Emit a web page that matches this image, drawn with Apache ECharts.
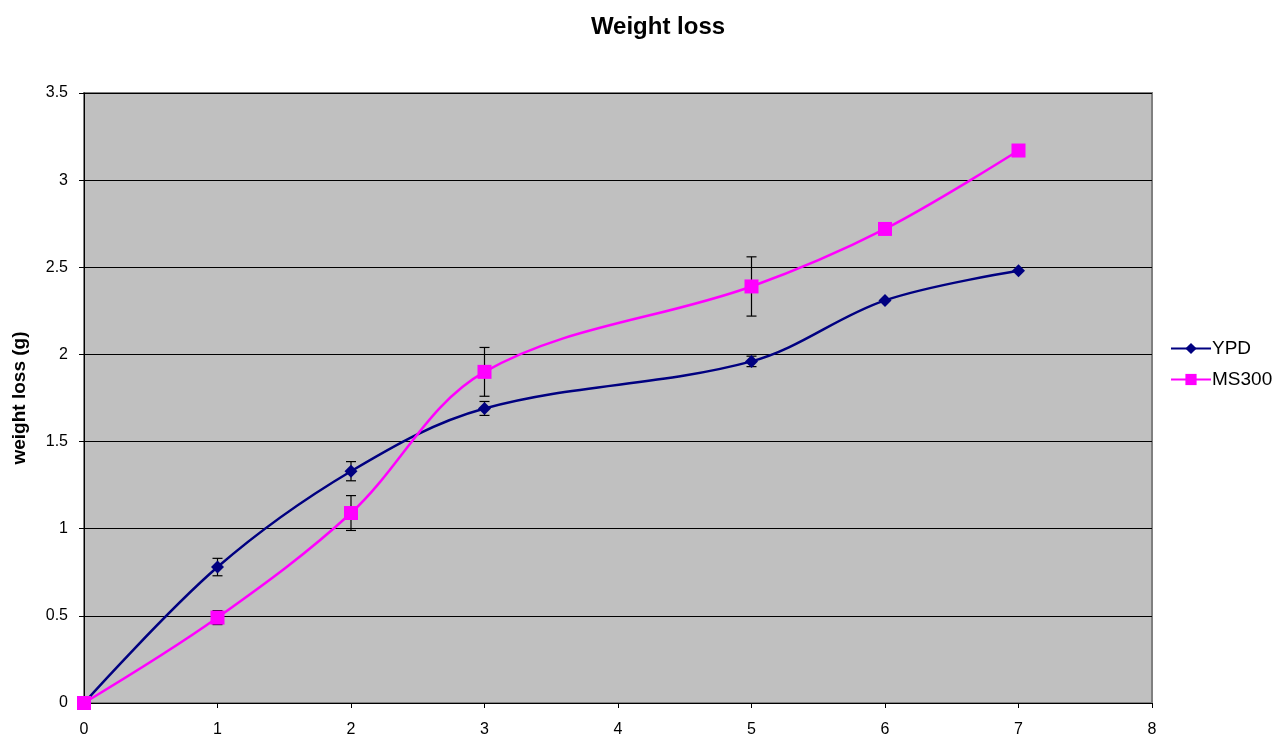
<!DOCTYPE html>
<html>
<head>
<meta charset="utf-8">
<script src="https://cdn.jsdelivr.net/npm/echarts@6/dist/echarts.min.js"></script>
<style>
html,body{margin:0;padding:0;background:#fff;}
#chart{width:1281px;height:738px;}
</style>
</head>
<body>
<div id="chart"></div>
<script>
const days = [0, 1, 2, 3, 5, 6, 7];
const ypd = [0, 0.78, 1.33, 1.69, 1.96, 2.31, 2.48];
const ypdErr = [0, 0.05, 0.055, 0.04, 0.03, 0, 0];
const ms300 = [0, 0.49, 1.09, 1.90, 2.39, 2.72, 3.17];
const ms300Err = [0, 0.04, 0.10, 0.14, 0.17, 0, 0];

const font = '"Liberation Sans", Arial, sans-serif';

function pts(xs, ys) { return xs.map((x, i) => [x, ys[i]]); }
function errData(xs, ys, es) {
  return xs.map((x, i) => [x, ys[i] - es[i], ys[i] + es[i]]).filter((d, i) => es[i] > 0);
}
function errRender(params, api) {
  const x = api.value(0);
  const lo = api.coord([x, api.value(1)]);
  const hi = api.coord([x, api.value(2)]);
  const w = 5;
  const style = { stroke: '#000', lineWidth: 1.2 };
  return {
    type: 'group',
    children: [
      { type: 'line', shape: { x1: lo[0], y1: lo[1], x2: hi[0], y2: hi[1] }, style },
      { type: 'line', shape: { x1: lo[0] - w, y1: lo[1], x2: lo[0] + w, y2: lo[1] }, style },
      { type: 'line', shape: { x1: hi[0] - w, y1: hi[1], x2: hi[0] + w, y2: hi[1] }, style }
    ]
  };
}

const chart = echarts.init(document.getElementById('chart'));
chart.setOption({
  animation: false,
  backgroundColor: '#fff',
  title: {
    text: 'Weight loss',
    left: 653, top: 10, textAlign: 'center',
    textStyle: { fontFamily: font, fontSize: 24, fontWeight: 'bold', color: '#000' }
  },
  legend: {
    orient: 'vertical',
    left: 1165, top: 334,
    itemGap: 12,
    itemWidth: 40, itemHeight: 14,
    textStyle: { fontFamily: font, fontSize: 19, color: '#000', padding: [0,0,0,-4] },
    data: ['YPD', 'MS300']
  },
  grid: {
    left: 84, right: 129, top: 93, bottom: 35,
    show: true, backgroundColor: '#C0C0C0', borderColor: '#808080', borderWidth: 2
  },
  xAxis: {
    type: 'value', min: 0, max: 8, interval: 1,
    axisLine: { show: true, lineStyle: { color: '#000', width: 1 } },
    axisTick: { show: true, length: 5, lineStyle: { color: '#000' } },
    axisLabel: { fontFamily: font, fontSize: 16, color: '#000', margin: 19 },
    splitLine: { show: false }
  },
  yAxis: {
    type: 'value', min: 0, max: 3.5, interval: 0.5,
    name: 'weight loss (g)', nameLocation: 'middle', nameGap: 55, nameRotate: 90,
    nameTextStyle: { fontFamily: font, fontSize: 19, fontWeight: 'bold', color: '#000' },
    axisLine: { show: true, lineStyle: { color: '#000', width: 1 } },
    axisTick: { show: true, length: 5, lineStyle: { color: '#000' } },
    axisLabel: { fontFamily: font, fontSize: 16, color: '#000', margin: 16 },
    splitLine: { show: true, lineStyle: { color: '#000', width: 1 } }
  },
  series: [
    {
      name: 'YPD err', type: 'custom', data: errData(days, ypd, ypdErr),
      renderItem: errRender, z: 1, silent: true
    },
    {
      name: 'MS300 err', type: 'custom', data: errData(days, ms300, ms300Err),
      renderItem: errRender, z: 1, silent: true
    },
    {
      name: 'YPD', type: 'line', data: pts(days, ypd), smooth: 0.35,
      symbol: 'diamond', symbolSize: 13,
      lineStyle: { color: '#000080', width: 2.5 },
      itemStyle: { color: '#000080' }, z: 3
    },
    {
      name: 'MS300', type: 'line', data: pts(days, ms300), smooth: 0.35,
      symbol: 'rect', symbolSize: 14,
      lineStyle: { color: '#FF00FF', width: 2.5 },
      itemStyle: { color: '#FF00FF' }, z: 4
    }
  ]
});
</script>
</body>
</html>
